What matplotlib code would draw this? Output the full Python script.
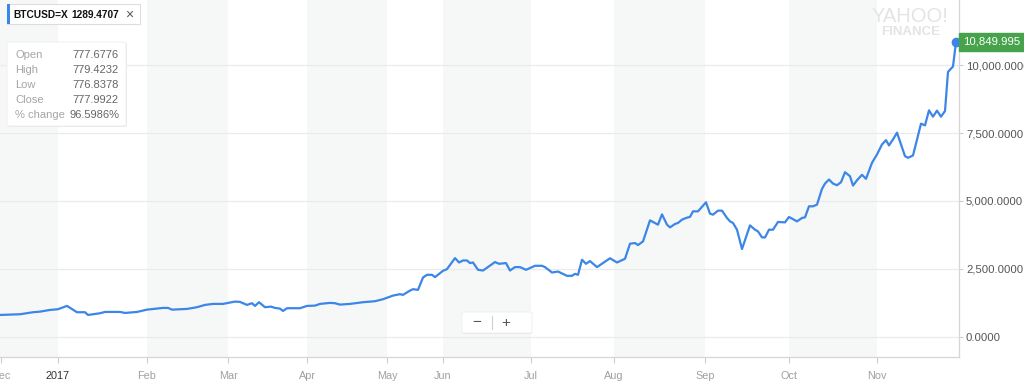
import matplotlib
matplotlib.use("Agg")
import matplotlib.pyplot as plt
from matplotlib.patches import Rectangle, FancyBboxPatch
from matplotlib.lines import Line2D

plt.rcParams['font.family'] = ['Liberation Sans', 'DejaVu Sans']

# ---------------- data ----------------
# x: session index along the chart (non-uniform calendar spacing, as in the source)
session = [0, 20, 33, 40, 50, 58, 67, 77, 85, 88, 100, 105, 120, 125, 137, 147, 163, 168, 172, 187,
           197, 205, 213, 223, 235, 240, 247, 252, 255, 259, 265, 271, 275, 280, 283, 287, 300, 307, 315, 320,
           330, 335, 340, 350, 363, 375, 383, 393, 400, 403, 410, 413, 418, 423, 427, 432, 435, 443, 447, 455,
           459, 463, 467, 470, 473, 478, 483, 495, 499, 506, 510, 515, 520, 526, 535, 542, 545, 552, 558, 567,
           572, 575, 578, 582, 586, 590, 597, 610, 617, 625, 630, 635, 638, 643, 650, 658, 662, 667, 670, 675,
           678, 682, 687, 690, 693, 698, 706, 710, 713, 718, 722, 727, 730, 733, 737, 742, 750, 755, 758, 762,
           765, 769, 773, 778, 785, 789, 797, 802, 805, 809, 813, 817, 822, 825, 829, 833, 837, 841, 845, 850,
           853, 857, 862, 866, 872, 877, 882, 886, 889, 893, 897, 901, 905, 908, 913, 921, 925, 929, 933, 937,
           941, 945, 948, 953, 956]
close = [801, 827, 901, 923, 986, 1012, 1134, 901, 901, 801, 864, 912, 912, 875, 912, 997, 1060, 1060, 997, 1023,
         1086, 1171, 1208, 1208, 1293, 1281, 1171, 1233, 1134, 1270, 1086, 1108, 1060, 1034, 949, 1049, 1049, 1134, 1145, 1208,
         1245, 1233, 1182, 1208, 1270, 1307, 1381, 1514, 1566, 1540, 1699, 1750, 1725, 2179, 2279, 2279, 2194, 2426, 2489, 2895,
         2733, 2807, 2807, 2711, 2733, 2463, 2437, 2748, 2685, 2711, 2437, 2563, 2563, 2463, 2611, 2611, 2563, 2364, 2400, 2242,
         2242, 2315, 2279, 2833, 2685, 2784, 2563, 2888, 2733, 2869, 3423, 3449, 3375, 3508, 4284, 4125, 4505, 4125, 4025, 4151,
         4188, 4310, 4384, 4409, 4616, 4616, 4949, 4531, 4494, 4642, 4642, 4372, 4247, 4188, 3940, 3228, 4099, 3940, 3878, 3656,
         3656, 3940, 3940, 4225, 4210, 4409, 4247, 4372, 4395, 4801, 4801, 4864, 5443, 5639, 5787, 5639, 5576, 5687, 6057, 5909,
         5565, 5761, 5961, 5813, 6404, 6710, 7079, 7238, 7043, 7264, 7512, 7079, 6647, 6588, 6673, 7844, 7781, 8335, 8102, 8324,
         8102, 8309, 9750, 9949, 10849.995]

month_ticks = [1, 58, 147, 228, 307, 387, 443, 531, 614, 705, 789, 877]
month_labels = ['Dec', '2017', 'Feb', 'Mar', 'Apr', 'May', 'Jun', 'Jul', 'Aug', 'Sep', 'Oct', 'Nov']
y_ticks = [0, 2500, 5000, 7500, 10000]
y_labels = ['0.0000', '2,500.0000', '5,000.0000', '7,500.0000', '10,000.0000']

ticker = 'BTCUSD=X'
ticker_value = '1289.4707'
tip_names = ['Open', 'High', 'Low', 'Close', '% change']
tip_values = ['777.6776', '779.4232', '776.8378', '777.9922', '96.5986%']
last_label = '10,849.995'

# ---------------- figure ----------------
W, H = 1024, 385
fig = plt.figure(figsize=(W / 100, H / 100), dpi=100)

def fx(x):
    return x / W

def fy(y):
    return 1 - y / H

ax = fig.add_axes([0, fy(357), fx(959), fy(0) - fy(357)])
ax.set_xlim(0, 959)
ax.set_ylim(-747, 12397)

# alternating month bands
band_edges = [0] + month_ticks[1:] + [959]
for i in range(0, len(band_edges) - 1, 2):
    ax.axvspan(band_edges[i], band_edges[i + 1], color='#f6f8f8', lw=0, zorder=0)

for yv in y_ticks:
    ax.axhline(yv, color='#ebebeb', lw=0.9, zorder=1)

line_color = '#3b86e6'
ax.plot(session, close, color=line_color, lw=1.6, zorder=3, solid_joinstyle='round')
ax.plot([session[-1]], [close[-1]], 'o', color=line_color, ms=6, zorder=4, clip_on=False)

for s in ['top', 'left']:
    ax.spines[s].set_visible(False)
for s in ['right', 'bottom']:
    ax.spines[s].set_color('#d6d6d6')
    ax.spines[s].set_linewidth(0.9)

ax.yaxis.tick_right()
ax.set_yticks(y_ticks)
ax.set_yticklabels(y_labels)
ax.set_xticks(month_ticks)
ax.set_xticklabels(month_labels)
ax.tick_params(axis='y', length=3, width=0.8, color='#cccccc', pad=2,
               labelsize=8.2, labelcolor='#555555')
ax.tick_params(axis='x', length=4, width=0.8, color='#cccccc', pad=6,
               labelsize=7.8, labelcolor='#a0a0a0')
ax.get_xticklabels()[1].set_color('#333333')

# last value green tag
fig.patches.append(Rectangle((fx(959), fy(51)), fx(70), fy(33) - fy(51),
                             transform=fig.transFigure, color='#46a24b', zorder=5))
fig.text(fx(963), fy(42), last_label, color='white', fontsize=8.2, va='center', ha='left', zorder=6)

# watermark
fig.text(fx(910), fy(17), 'YAHOO!', color='#e4e4e4', fontsize=14.5, ha='center', va='center', zorder=2)
fig.text(fx(911), fy(32), 'FINANCE', color='#e4e4e4', fontsize=9.5, fontweight='bold',
         ha='center', va='center', zorder=2)

# ticker box
fig.patches.append(Rectangle((fx(7), fy(24)), fx(133), fy(4) - fy(24), transform=fig.transFigure,
                             facecolor='white', edgecolor='#dddddd', lw=0.8, zorder=5))
fig.patches.append(Rectangle((fx(7), fy(24)), fx(2.5), fy(4) - fy(24), transform=fig.transFigure,
                             facecolor=line_color, edgecolor='none', zorder=6))
fig.text(fx(13), fy(14.5), ticker, fontsize=7.3, fontweight='bold', color='#111111', va='center', zorder=7)
fig.text(fx(71), fy(14.5), ticker_value, fontsize=7.3, fontweight='bold', color='#111111', va='center', zorder=7)
fig.text(fx(129), fy(14.5), '\u00d7', fontsize=10, color='#555555', va='center', ha='center', zorder=7)

# tooltip box
fig.patches.append(FancyBboxPatch((fx(8), fy(127)), fx(119), fy(43) - fy(127),
                                  boxstyle='round,pad=0,rounding_size=0.004', transform=fig.transFigure,
                                  facecolor='#e9e9e9', edgecolor='none', zorder=5))
fig.patches.append(FancyBboxPatch((fx(7), fy(126)), fx(119), fy(42) - fy(126),
                                  boxstyle='round,pad=0,rounding_size=0.004', transform=fig.transFigure,
                                  facecolor='white', edgecolor='#eeeeee', lw=0.6, zorder=6))
for i, (n, v) in enumerate(zip(tip_names, tip_values)):
    yy = 55 + i * 15
    fig.text(fx(15), fy(yy), n, fontsize=8, color='#a5a5a5', va='center', ha='left', zorder=7)
    fig.text(fx(119), fy(yy), v, fontsize=8, color='#666666', va='center', ha='right', zorder=7)

# zoom control
fig.patches.append(FancyBboxPatch((fx(462), fy(334)), fx(70), fy(313) - fy(334),
                                  boxstyle='round,pad=0,rounding_size=0.003', transform=fig.transFigure,
                                  facecolor='#e6e6e6', edgecolor='none', zorder=5))
fig.patches.append(FancyBboxPatch((fx(462), fy(333)), fx(70), fy(312) - fy(333),
                                  boxstyle='round,pad=0,rounding_size=0.003', transform=fig.transFigure,
                                  facecolor='white', edgecolor='#eeeeee', lw=0.6, zorder=6))
fig.lines.append(Line2D([fx(492), fx(492)], [fy(316), fy(329)], transform=fig.transFigure,
                        color='#d0d0d0', lw=0.8, zorder=7))
fig.text(fx(477), fy(322.5), '\u2212', fontsize=11, color='#555555', ha='center', va='center', zorder=7)
fig.text(fx(506), fy(322.5), '+', fontsize=11, color='#555555', ha='center', va='center', zorder=7)

fig.savefig('out.png', dpi=100)
